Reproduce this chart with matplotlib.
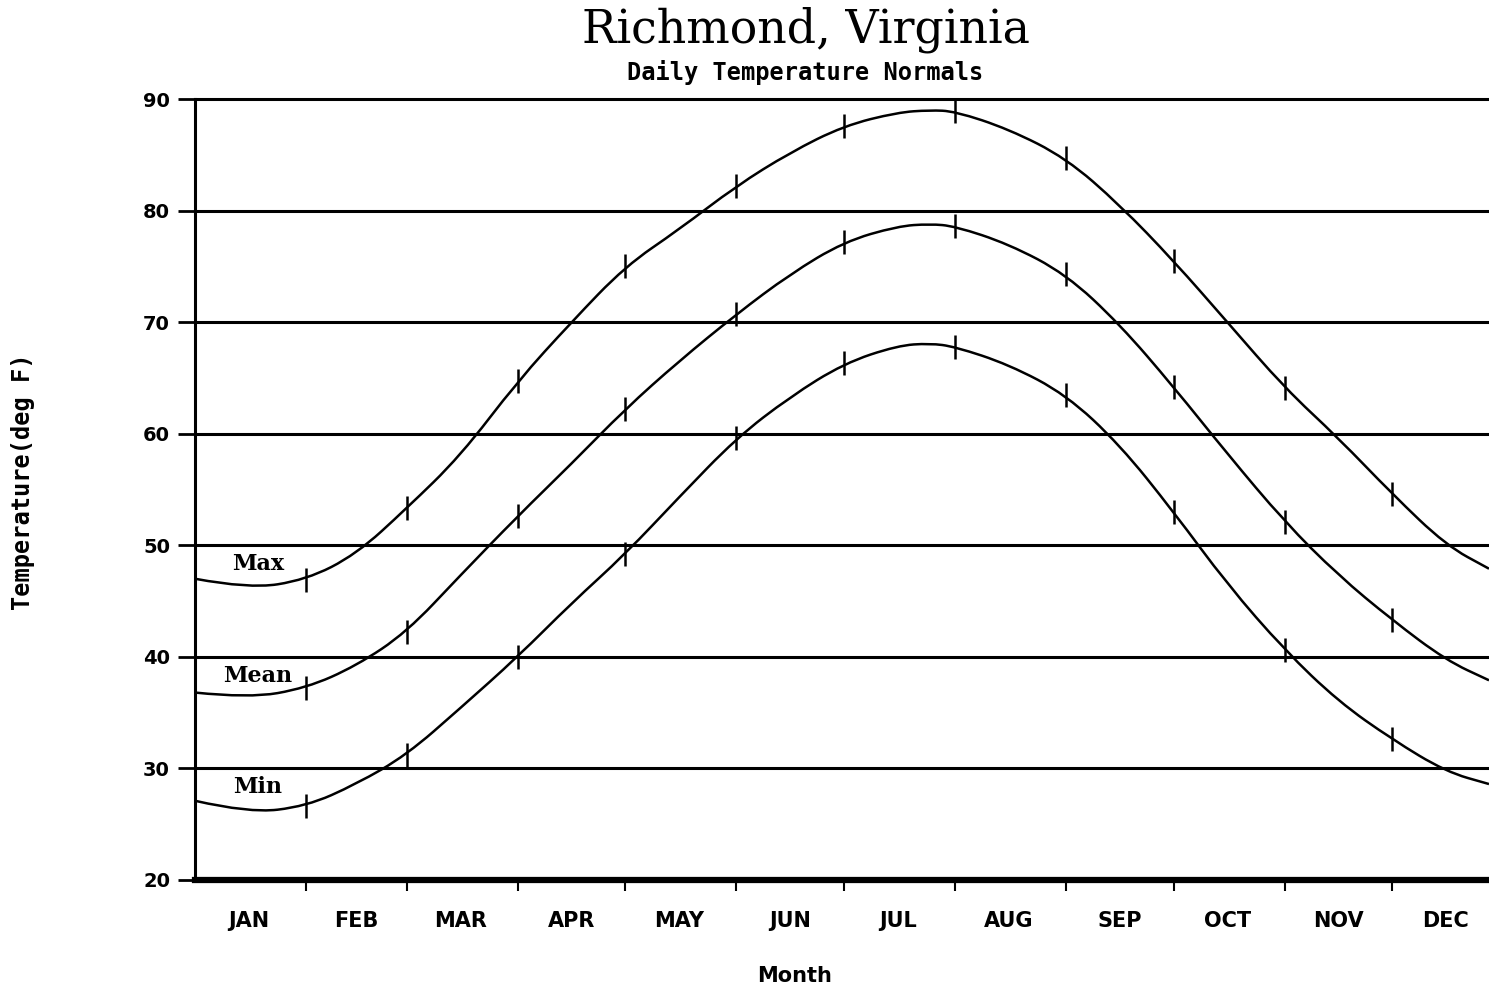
#!/usr/bin/env python3

import numpy as np
from matplotlib import pyplot as plt
from matplotlib.path import Path
from matplotlib.patches import PathPatch

# day of year (0 = Jan 1), read at month starts and mid months
days = [0, 15, 31, 45, 59, 74, 90, 105, 120, 135, 151, 166, 181,
        196, 205, 212, 227, 243, 258, 273, 288, 304, 319, 334, 349, 361]

t_max = [47.0, 46.1, 46.9, 49.2, 53.3, 58.0, 64.7, 70.0, 75.0, 78.3, 82.2, 85.2, 87.6,
         88.8, 89.0, 88.9, 87.3, 84.7, 80.5, 75.5, 70.0, 64.1, 59.6, 54.6, 50.0, 47.9]
t_mean = [36.8, 36.3, 37.2, 39.2, 42.2, 47.3, 52.6, 57.3, 62.2, 66.5, 70.7, 74.3, 77.2,
          78.6, 78.8, 78.6, 77.0, 74.3, 69.8, 64.2, 58.2, 52.1, 47.3, 43.3, 39.7, 37.9]
t_min = [27.1, 26.0, 26.6, 28.6, 31.2, 35.4, 40.0, 44.8, 49.2, 54.3, 59.6, 63.3, 66.3,
         67.9, 68.1, 67.8, 66.2, 63.5, 59.0, 53.0, 46.5, 40.6, 36.0, 32.6, 29.7, 28.6]

month_starts = [31, 59, 90, 120, 151, 181, 212, 243, 273, 304, 334]
month_mids = [15, 45, 74, 105, 135, 166, 196, 227, 258, 288, 319, 349]
month_names = ['JAN', 'FEB', 'MAR', 'APR', 'MAY', 'JUN',
               'JUL', 'AUG', 'SEP', 'OCT', 'NOV', 'DEC']
y_ticks = [20, 30, 40, 50, 60, 70, 80, 90]

series = [('Max', t_max, 48.3), ('Mean', t_mean, 38.3), ('Min', t_min, 28.3)]


def smooth_path(xs, ys):
    # quadratic bezier chain: read points act as control points
    pts = np.column_stack([xs, ys])
    verts = [pts[0]]
    codes = [Path.MOVETO]
    for i in range(1, len(pts) - 1):
        verts += [pts[i], (pts[i] + pts[i + 1]) / 2]
        codes += [Path.CURVE3, Path.CURVE3]
    verts.append(pts[-1])
    codes.append(Path.LINETO)
    return Path(verts, codes)


fig = plt.figure(figsize=(14.89, 9.94), dpi=100)
ax = fig.add_axes([0.131, 0.1147, 0.869, 0.7857])

days_arr = np.array(days)
mark_idx = [days.index(d) for d in month_starts]
for name, vals, label_y in series:
    vals = np.array(vals)
    ax.add_patch(PathPatch(smooth_path(days_arr, vals), fill=False,
                           edgecolor='black', lw=1.8, zorder=3))
    ax.plot(days_arr[mark_idx], vals[mark_idx], ls='none', marker='|',
            ms=17, mew=1.8, color='black', zorder=3)
    ax.text(17.5, label_y, name, fontsize=16, fontweight='bold',
            family='DejaVu Serif', ha='center', va='center')

ax.set_xlim(0, 361)
ax.set_ylim(20, 90)

for v in y_ticks[1:]:
    ax.axhline(v, color='black', lw=2.2, clip_on=False, zorder=1)

for side in ['top', 'right']:
    ax.spines[side].set_visible(False)
ax.spines['left'].set_linewidth(2.2)
ax.spines['bottom'].set_linewidth(4.5)

ax.set_yticks(y_ticks)
ax.set_yticklabels([str(v) for v in y_ticks], fontsize=14, fontweight='bold')
ax.tick_params(axis='y', direction='out', length=12, width=2, pad=6)

ax.set_xticks(month_starts)
ax.set_xticklabels([])
ax.tick_params(axis='x', which='major', direction='out', length=8, width=1.5)
ax.set_xticks(month_mids, minor=True)
ax.set_xticklabels(month_names, minor=True, fontsize=15, fontweight='bold')
ax.tick_params(axis='x', which='minor', length=0, pad=22)

ax.set_xlabel('Month', fontsize=15, fontweight='bold')
ax.xaxis.set_label_coords((795 - 195) / 1294, -0.11)
ax.set_ylabel('Temperature(deg F)', fontsize=17, fontweight='bold',
              family='DejaVu Sans Mono')
ax.yaxis.set_label_coords(-0.124, 0.51)

fig.text(0.541, 0.970, 'Richmond, Virginia', fontsize=33, family='DejaVu Serif',
         ha='center', va='center')
fig.text(0.541, 0.927, 'Daily Temperature Normals', fontsize=17, fontweight='bold',
         family='DejaVu Sans Mono', ha='center', va='center')

fig.savefig('out.png', dpi=100)
